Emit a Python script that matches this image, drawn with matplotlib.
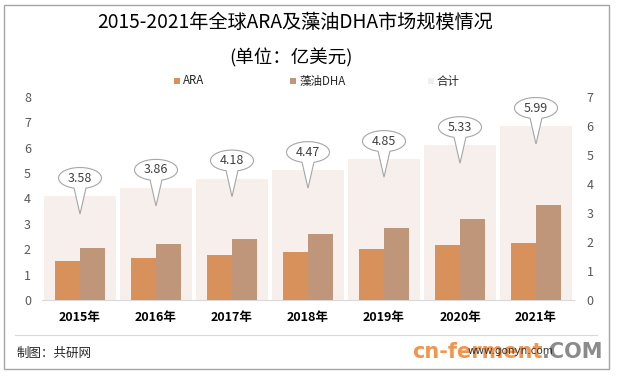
import matplotlib
matplotlib.use("Agg")
import matplotlib.pyplot as plt
import numpy as np
from matplotlib.path import Path
from matplotlib.patches import PathPatch, Rectangle
import matplotlib.transforms as mtransforms

plt.rcParams['font.family'] = ['Noto Sans CJK SC', 'DejaVu Sans']

years = ['2015年', '2016年', '2017年', '2018年', '2019年', '2020年', '2021年']
ara = [1.55, 1.66, 1.76, 1.89, 2.02, 2.16, 2.26]
dha = [2.03, 2.20, 2.42, 2.58, 2.83, 3.17, 3.73]
total = [3.58, 3.86, 4.18, 4.47, 4.85, 5.33, 5.99]
left_ticks = [0, 1, 2, 3, 4, 5, 6, 7, 8]
right_ticks = [0, 1, 2, 3, 4, 5, 6, 7]

C_ARA = '#D8915A'
C_DHA = '#BF9679'
C_TOT = '#F6EFEC'
TXT = '#404040'

W, H = 617, 376
fig = plt.figure(figsize=(W / 100, H / 100), dpi=100)

# outer border
fig.patches.append(Rectangle((4 / W, (H - 369) / H), 605 / W, 364 / H,
                             transform=fig.transFigure, fill=False,
                             edgecolor='#A6A6A6', linewidth=1.0))

x0, x1 = 42, 574
ytop, ybot = 96.7, 300
ax2 = fig.add_axes([x0 / W, (H - ybot) / H, (x1 - x0) / W, (ybot - ytop) / H])
ax = ax2.twinx()
ax2.yaxis.tick_right()
ax.yaxis.tick_left()
ax.set_zorder(ax2.get_zorder() + 1)
ax.patch.set_visible(False)

x = np.arange(len(years))
ax2.bar(x, total, width=0.95, color=C_TOT, zorder=1)
ax.bar(x - 0.165, ara, width=0.33, color=C_ARA, zorder=2)
ax.bar(x + 0.165, dha, width=0.33, color=C_DHA, zorder=2)

ax.set_ylim(0, 8)
ax2.set_ylim(0, 7)
ax2.set_xlim(-0.5, len(years) - 0.5)
ax.set_yticks(left_ticks)
ax2.set_yticks(right_ticks)
ax.set_yticklabels([str(t) for t in left_ticks], fontsize=9, color='#595959')
ax2.set_yticklabels([str(t) for t in right_ticks], fontsize=9, color='#595959')
ax.tick_params(axis='y', length=0, pad=8)
ax2.tick_params(axis='y', length=0, pad=9)
ax2.set_xticks(x)
ax2.set_xticklabels(years, fontsize=9, fontweight='bold', color='#000000')
ax2.tick_params(axis='x', length=0, pad=8)
for a in (ax, ax2):
    for s in a.spines.values():
        s.set_visible(False)
ax2.spines['bottom'].set_visible(True)
ax2.spines['bottom'].set_color('#D9D9D9')

# callouts
theta = np.linspace(-np.pi / 2 + 0.28, 3 * np.pi / 2 - 0.28, 80)
a_w, a_h, off = 0.215, 0.105, 0.18
verts = [(a_w * np.cos(t), off + a_h * np.sin(t)) for t in theta]
verts.append((0.0, -off))
verts.append(verts[0])
codes = [Path.MOVETO] + [Path.LINETO] * (len(verts) - 2) + [Path.CLOSEPOLY]
shape = Path(verts, codes)
for xi, t in zip(x, total):
    tr = fig.dpi_scale_trans + mtransforms.ScaledTranslation(xi, t, ax2.transData)
    ax2.add_patch(PathPatch(shape, transform=tr, facecolor='white',
                            edgecolor='#A6A6A6', linewidth=0.8, zorder=5))
    ttr = mtransforms.offset_copy(ax2.transData, fig=fig, x=0, y=off * 72, units='points')
    ax2.text(xi, t, f'{t:.2f}', transform=ttr, ha='center', va='center',
             fontsize=9, color=TXT, zorder=6)

# title
fig.text(295 / W, 1 - 22 / H, '2015-2021年全球ARA及藻油DHA市场规模情况',
         ha='center', va='center', fontsize=13.8, color='#000000')
fig.text(291 / W, 1 - 58 / H, '(单位：亿美元)', ha='center', va='center',
         fontsize=13.3, color='#000000')

# legend
leg_items = [(174, 'ARA', C_ARA), (290, '藻油DHA', C_DHA), (428, '合计', '#EFEFEF')]
for lx, lab, col in leg_items:
    fig.patches.append(Rectangle((lx / W, 1 - 84 / H), 6 / W, 6 / H,
                                 transform=fig.transFigure, facecolor=col,
                                 edgecolor='none'))
    fig.text((lx + 9) / W, 1 - 81 / H, lab, ha='left', va='center',
             fontsize=8.3, color='#262626')

# footer
fig.add_artist(plt.Line2D([15 / W, 597 / W], [1 - 335 / H, 1 - 335 / H],
                          transform=fig.transFigure, color='#D9D9D9', linewidth=0.8))
fig.text(17 / W, 1 - 353 / H, '制图：共研网', ha='left', va='center',
         fontsize=9, color='#262626')
fig.text(412 / W, 1 - 352 / H, 'cn-ferment', ha='left', va='center',
         fontsize=15, fontweight='bold', color='#F08A3C', family='DejaVu Sans', alpha=0.9)
fig.text(603 / W, 1 - 352 / H, '.COM', ha='right', va='center',
         fontsize=15, fontweight='bold', color='#7F7F7F', family='DejaVu Sans', alpha=0.9)
fig.text(510 / W, 1 - 351 / H, 'www.gonyn.com', ha='center', va='center',
         fontsize=7.5, color='#333333', family='DejaVu Sans')

fig.savefig('out.png', dpi=100, facecolor='white')
